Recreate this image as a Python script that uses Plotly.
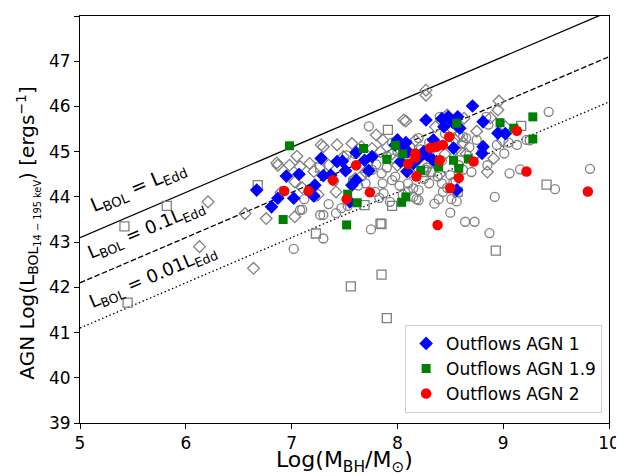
import numpy as np
import plotly.graph_objects as go

# Outflows AGN 1 (blue diamonds)
agn1_mbh = [6.67, 6.81, 6.87, 6.95, 7.02, 7.07, 7.22, 7.21, 7.28, 7.30, 7.37, 7.43, 7.48,
            7.51, 7.61, 7.61, 7.57, 7.69, 7.73, 7.76, 7.55, 8.00, 8.08, 8.03, 8.09, 8.10,
            8.15, 8.27, 8.34, 8.25, 8.37, 8.42, 8.48, 8.52, 8.44, 8.59, 8.57, 8.71, 8.81,
            8.81, 8.80, 8.95, 9.02, 8.53, 8.56, 8.34, 8.28, 8.20, 8.05, 7.98]
agn1_lbol = [44.15, 43.78, 43.97, 44.46, 43.97, 44.50, 44.26, 44.02, 44.85, 44.47, 44.48,
             44.78, 44.79, 44.58, 44.98, 44.37, 44.26, 44.81, 44.58, 44.89, 43.89, 45.26,
             45.20, 44.78, 44.56, 45.00, 44.74, 45.70, 45.26, 45.00, 44.78, 45.73, 45.77,
             45.66, 45.55, 45.52, 45.77, 46.01, 45.66, 45.11, 44.96, 45.41, 45.40, 45.08,
             44.15, 44.81, 44.92, 44.85, 45.10, 45.15]

# Outflows AGN 1.9 (green squares)
agn19_mbh = [6.98, 6.92, 7.53, 7.62, 7.52, 7.68, 7.90, 7.98, 8.05, 8.04, 8.08, 8.22, 8.39,
             8.56, 8.53, 8.58, 8.67, 8.97, 9.10, 9.28, 9.28]
agn19_lbol = [45.13, 43.50, 44.06, 43.87, 43.38, 45.07, 44.83, 45.14, 44.95, 43.88, 44.00,
              44.59, 44.66, 45.63, 44.81, 44.63, 44.84, 45.64, 45.52, 45.77, 45.28]

# Outflows AGN 2 (red circles)
agn2_mbh = [6.93, 7.16, 7.39, 7.52, 7.61, 7.74, 8.10, 8.17, 8.17, 8.18, 8.31, 8.37, 8.43,
            8.49, 8.40, 8.38, 8.50, 8.58, 8.72, 9.13, 9.22, 9.80]
agn2_lbol = [44.13, 44.13, 44.37, 43.95, 44.70, 44.10, 44.73, 44.96, 44.87, 44.45, 45.08,
             45.11, 45.15, 45.33, 44.81, 43.38, 44.19, 44.42, 44.78, 45.46, 44.56, 44.12]

# full sample (gray open markers)
sq_mbh = [5.42, 5.82, 5.45, 6.68, 7.23, 7.27, 7.56, 7.69, 7.85, 7.85, 7.90, 7.95, 7.91,
          8.57, 8.93, 9.17, 9.41, 7.84, 8.25]
sq_lbol = [43.35, 43.80, 41.66, 44.26, 43.19, 44.65, 42.02, 43.82, 43.40, 42.28, 41.32,
           43.80, 45.48, 44.11, 42.81, 45.57, 44.27, 43.41, 44.55]

dia_mbh = [6.21, 6.13, 6.56, 6.64, 6.76, 6.86, 6.87, 6.98, 7.05, 7.08, 7.03, 7.03, 7.17,
           7.21, 7.28, 7.30, 7.43, 7.42, 7.49, 7.57, 7.66, 7.76, 7.80, 7.86, 7.84, 8.06,
           8.08, 8.27, 8.27, 8.96, 8.95, 8.91, 8.47, 8.63, 8.36, 8.17, 8.30, 8.55, 8.62,
           8.75, 8.88, 8.99, 9.02, 8.50, 8.00, 7.95, 8.12, 8.45, 8.55, 7.60, 7.35, 6.90,
           7.10, 7.25, 8.40, 8.65, 8.85, 7.70, 8.20, 8.58]
dia_lbol = [43.89, 42.90, 43.63, 42.42, 43.52, 44.75, 44.70, 44.70, 44.90, 44.67, 44.33,
            43.56, 44.74, 44.56, 45.15, 45.11, 45.15, 44.11, 44.89, 45.18, 45.11, 45.07,
            45.37, 45.26, 45.00, 45.70, 45.68, 46.36, 46.25, 46.12, 45.92, 44.85, 45.81,
            45.74, 45.55, 45.25, 45.00, 45.25, 45.20, 45.45, 45.75, 45.25, 45.55, 45.45,
            44.70, 44.95, 44.55, 44.95, 45.05, 44.40, 44.70, 44.10, 44.20, 44.05, 44.50,
            44.95, 44.55, 44.55, 44.85, 45.35]

circ_mbh = [7.02, 7.30, 7.30, 7.35, 7.10, 7.42, 7.27, 7.08, 7.47, 7.73, 7.75, 7.53,
            7.52, 7.60, 7.73, 7.80, 7.85, 7.76, 7.90, 7.95, 7.86, 7.58, 7.63, 7.66, 7.79,
            7.87, 7.83, 7.93, 7.98, 8.02, 8.05, 8.10, 8.15, 8.15, 8.20, 8.20, 8.25, 8.28,
            8.30, 8.32, 8.35, 8.38, 8.42, 8.39, 8.43, 8.50, 8.50, 8.51, 8.55, 8.58, 8.62,
            8.64, 8.70, 8.73, 8.75, 8.87, 8.92, 9.06, 9.01, 9.16, 9.22, 9.13, 8.94, 9.43,
            9.49, 9.82, 8.00, 8.05, 8.12, 8.22, 8.30, 8.20, 7.95, 7.90, 8.40, 8.84, 8.65,
            8.62, 8.80, 8.85, 8.60, 8.42, 8.35, 8.18, 8.10, 7.70, 7.40, 7.22, 7.12, 8.53,
            8.56, 8.86, 9.05, 9.25, 8.45, 8.68, 7.97, 8.08, 8.27, 8.47]
circ_lbol = [42.85, 43.08, 43.60, 43.84, 43.72, 43.64, 43.60, 43.71, 43.75, 45.56, 43.28,
             43.80, 44.92, 44.95, 44.78, 44.72, 44.52, 44.60, 44.65, 44.37, 44.30, 44.37,
             44.25, 44.45, 44.11, 44.08, 43.98, 43.89, 44.45, 44.25, 44.05, 44.30, 44.19,
             44.00, 43.93, 44.15, 44.40, 44.65, 44.30, 44.55, 44.75, 44.45, 44.30, 43.95,
             44.11, 44.48, 43.65, 43.95, 44.35, 44.70, 44.60, 43.45, 44.55, 43.45, 45.26,
             43.20, 44.00, 44.52, 44.96, 44.61, 45.26, 45.15, 45.15, 45.88, 44.17, 44.62,
             45.00, 45.15, 45.10, 45.05, 45.20, 45.30, 45.20, 44.90, 45.77, 45.77, 45.30,
             45.33, 45.00, 44.70, 45.00, 44.80, 43.85, 43.95, 44.12, 44.30, 44.35, 44.00,
             43.95, 44.33, 43.90, 45.60, 45.20, 45.25, 45.40, 45.10, 44.85, 44.80, 44.60,
             44.20]

# Eddington ratio lines: log L = log M + 38.1 + log(ratio)
line_mbh = [5, 10]
edd_ratios = [1.0, 0.1, 0.01]
edd_dash = ['solid', '5.5px,2.4px', '1.5px,2.5px']
edd_text = ['L<sub>BOL</sub> = L<sub>Edd</sub>',
            'L<sub>BOL</sub> = 0.1L<sub>Edd</sub>',
            'L<sub>BOL</sub> = 0.01L<sub>Edd</sub>']
text_pos = [(5.55, 44.20), (5.63, 43.27), (5.69, 42.23)]
text_size = [19, 18, 18]

fig = go.Figure()

for r, d in zip(edd_ratios, edd_dash):
    fig.add_trace(go.Scatter(
        x=line_mbh, y=[m + 38.1 + np.log10(r) for m in line_mbh],
        mode='lines', line=dict(color='black', width=1.3, dash=d),
        showlegend=False, hoverinfo='skip'))

gray = '#808080'
fig.add_trace(go.Scatter(x=circ_mbh, y=circ_lbol, mode='markers', showlegend=False,
                         marker=dict(symbol='circle-open', size=9, color=gray, line=dict(width=1.3))))
fig.add_trace(go.Scatter(x=dia_mbh, y=dia_lbol, mode='markers', showlegend=False,
                         marker=dict(symbol='diamond-open', size=9, color=gray, line=dict(width=1.3))))
fig.add_trace(go.Scatter(x=sq_mbh, y=sq_lbol, mode='markers', showlegend=False,
                         marker=dict(symbol='square-open', size=9, color=gray, line=dict(width=1.3))))

fig.add_trace(go.Scatter(x=agn1_mbh, y=agn1_lbol, mode='markers', name='Outflows AGN 1',
                         marker=dict(symbol='diamond', size=10.5, color='blue', line=dict(width=0))))
fig.add_trace(go.Scatter(x=agn19_mbh, y=agn19_lbol, mode='markers', name='Outflows AGN 1.9',
                         marker=dict(symbol='square', size=9, color='green', line=dict(width=0))))
fig.add_trace(go.Scatter(x=agn2_mbh, y=agn2_lbol, mode='markers', name='Outflows AGN 2',
                         marker=dict(symbol='circle', size=10.5, color='red', line=dict(width=0))))

for t, (tx, ty), s in zip(edd_text, text_pos, text_size):
    fig.add_annotation(x=tx, y=ty, xref='x', yref='y', text=t, showarrow=False,
                       textangle=-23, font=dict(size=s, color='black'))

# axis titles placed by hand
fig.add_annotation(x=0.5, y=-0.095, xref='paper', yref='paper', showarrow=False,
                   text='Log(M<sub>BH</sub>/M<sub>⊙</sub>)', yanchor='middle',
                   font=dict(size=22, color='black'))
fig.add_annotation(x=-0.098, y=0.468, xref='paper', yref='paper', showarrow=False,
                   text='AGN Log(L<sub>BOL<sub>14 − 195 keV</sub></sub>) [ergs<sup>−1</sup>]',
                   textangle=-90, xanchor='center', font=dict(size=20, color='black'))

axis_style = dict(showgrid=False, zeroline=False, showline=True, mirror=True,
                  linecolor='black', linewidth=1, ticks='outside', ticklen=5,
                  tickcolor='black', dtick=1, automargin=False,
                  tickfont=dict(size=17, color='black'))

fig.update_xaxes(range=[5, 10], **axis_style)
fig.update_yaxes(range=[39, 48], **axis_style)

# page body adds an 8px offset, margins compensate for it
fig.update_layout(
    width=624, height=476,
    margin=dict(l=72, r=23, t=8, b=61),
    plot_bgcolor='white', paper_bgcolor='white',
    font=dict(family='DejaVu Sans', color='black'),
    legend=dict(x=0.987, y=0.025, xanchor='right', yanchor='bottom',
                bgcolor='white', bordercolor='#d0d0d0', borderwidth=1,
                font=dict(size=17), itemwidth=30),
)

fig.write_html('out.html')
